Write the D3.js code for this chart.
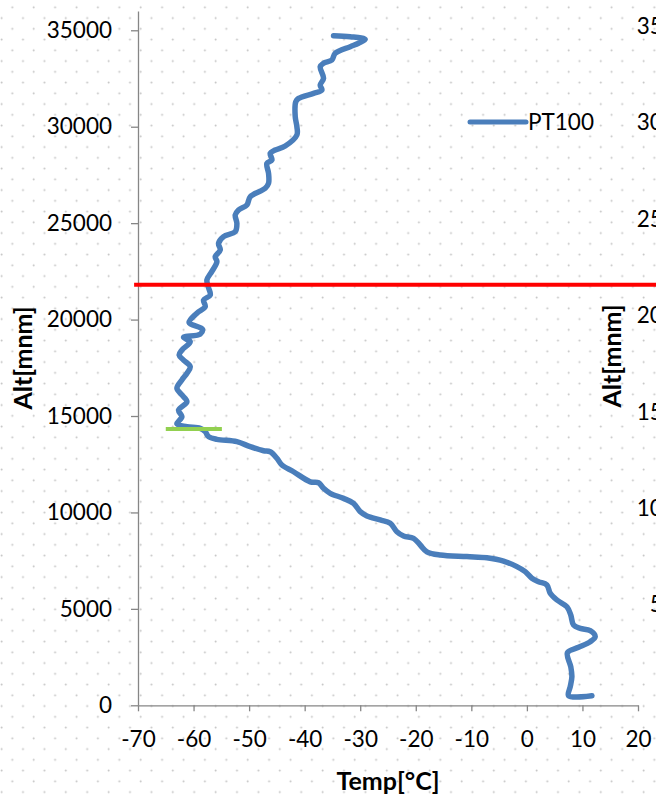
<!DOCTYPE html>
<html>
<head>
<meta charset="utf-8">
<script src="https://cdn.jsdelivr.net/npm/d3@7"></script>
<style>
  body { margin: 0; background: #fff; }
  text { font-family: Lato, "Open Sans", sans-serif; fill: #000; }
</style>
</head>
<body>
<div id="chart"></div>
<script>
var chartWidth = 656;
var chartHeight = 796;

// Sounding data: temperature [°C] vs altitude [m]
var tempC = [11.7, 7.5, 7.8, 8.1, 7.9, 7.3, 9.3, 11.4, 12.3, 11.4, 9.6, 8.4, 7.9, 7.2, 5.4, 4.2, 3.6, 2.1, 0.9, -0.3,
  -1.8, -4.2, -7.2, -10.8, -15.6, -18.0, -19.2, -20.4, -22.2, -23.4, -24.6, -26.4, -28.8, -30.0, -31.2, -33.0, -35.4, -36.6, -37.5, -39.0,
  -42.0, -44.1, -45.0, -46.2, -47.4, -49.8, -52.2, -55.8, -57.3, -57.9, -58.8, -61.2, -63.0, -62.1, -62.7, -61.2, -62.1, -63.0, -62.1, -61.2,
  -60.6, -61.8, -62.6, -62.1, -60.6, -61.8, -58.8, -58.4, -60.8, -59.4, -57.9, -58.2, -57.0, -57.3, -57.6, -56.7, -55.8, -56.1, -55.2, -55.5,
  -54.6, -52.5, -52.2, -52.5, -51.9, -50.4, -49.8, -47.1, -46.5, -46.5, -46.8, -45.9, -46.2, -45.3, -43.5, -41.4, -41.4, -41.7, -41.6, -41.1,
  -38.4, -36.9, -37.2, -36.6, -37.2, -36.6, -35.1, -34.5, -31.8, -30.3, -29.1, -31.8, -34.8];
var altM = [500, 500, 960, 1480, 2000, 2730, 3010, 3300, 3560, 3870, 3990, 4160, 4680, 5110, 5460, 5810, 6240, 6410, 6590, 6930,
  7190, 7480, 7650, 7710, 7790, 7960, 8310, 8660, 8780, 9000, 9440, 9610, 9820, 10040, 10470, 10730, 10990, 11250, 11540, 11590,
  12110, 12460, 12810, 13150, 13200, 13410, 13670, 13790, 13930, 14190, 14360, 14450, 14590, 14960, 15310, 15740, 16090, 16440, 16870, 17210,
  17560, 17900, 18160, 18420, 18850, 19080, 19250, 19500, 19840, 20330, 20670, 21010, 21270, 21650, 22050, 22500, 23000, 23260, 23610, 23950,
  24300, 24560, 24990, 25420, 25680, 25940, 26370, 26810, 27070, 27580, 28100, 28270, 28620, 28790, 29000, 29570, 30000, 30520, 31300, 31470,
  31730, 31900, 32160, 32510, 33110, 33290, 33460, 33810, 34150, 34330, 34530, 34670, 34720];

// Marker lines (tropopause and burst altitude)
var greenTemp = [-65, -54.9];
var greenAlt = [14330, 14330];
var redTemp = [-70.7, 30];
var redAlt = [21800, 21800];

var xTicks = [-70, -60, -50, -40, -30, -20, -10, 0, 10, 20];
var yTicks = [0, 5000, 10000, 15000, 20000, 25000, 30000, 35000];
var seriesName = "PT100";
var xTitle = "Temp[°C]";
var yTitle = "Alt[mnm]";

// plain hyphen for negatives, like the original
var numFormat = function (d) { return String(d); };

var svg = d3
  .select("#chart")
  .append("svg")
  .attr("width", chartWidth)
  .attr("height", chartHeight);

// Dotted background pattern
var pattern = svg.append("defs")
  .append("pattern")
  .attr("id", "dots")
  .attr("patternUnits", "userSpaceOnUse")
  .attr("width", 21.4)
  .attr("height", 21.5);
pattern.append("circle").attr("cx", 12.3).attr("cy", 7.3).attr("r", 1).attr("fill", "#c4c4c4");
pattern.append("circle").attr("cx", 1.6).attr("cy", 18.05).attr("r", 1).attr("fill", "#c4c4c4");

svg.append("rect")
  .attr("width", chartWidth)
  .attr("height", chartHeight)
  .attr("fill", "url(#dots)");

var x = d3.scaleLinear().domain([-70, 20]).range([138, 638]);
var y = d3.scaleLinear().domain([0, 36000]).range([705.3, 11]);

// Clipped second chart on the right edge (only its y axis labels show)
var y2 = d3.scaleLinear().domain([0, 36000]).range([701, 7]);
svg.append("g")
  .attr("transform", "translate(728,0)")
  .call(d3.axisLeft(y2).tickValues(yTicks).tickFormat(numFormat).tickSize(7).tickPadding(19))
  .call(function (g) { g.select(".domain").remove(); g.selectAll("line").remove(); })
  .selectAll("text")
  .attr("font-size", "22.5px")
  .attr("font-family", "Lato");
svg.append("text")
  .attr("transform", "translate(621,356) rotate(-90)")
  .attr("text-anchor", "middle")
  .attr("font-size", "25px")
  .attr("font-weight", "bold")
  .text(yTitle);

// Axes
var yAxis = svg.append("g")
  .attr("transform", "translate(138,0)")
  .call(d3.axisLeft(y).tickValues(yTicks).tickFormat(numFormat).tickSize(7).tickSizeOuter(0).tickPadding(19));

var xAxis = svg.append("g")
  .attr("transform", "translate(0,705.3)")
  .call(d3.axisBottom(x).tickValues(xTicks).tickFormat(numFormat).tickSize(6).tickSizeOuter(0).tickPadding(20));

[yAxis, xAxis].forEach(function (g) {
  g.select(".domain").attr("stroke", "#868686").attr("stroke-width", 1.3);
  g.selectAll(".tick line").attr("stroke", "#868686").attr("stroke-width", 1.3);
  g.selectAll(".tick text")
    .attr("font-size", "22.5px")
    .attr("font-family", "Lato")
    .attr("fill", "#000");
});

// Axis titles
svg.append("text")
  .attr("transform", "translate(32,358) rotate(-90)")
  .attr("text-anchor", "middle")
  .attr("font-size", "25px")
  .attr("font-weight", "bold")
  .text(yTitle);

svg.append("text")
  .attr("x", 388)
  .attr("y", 790)
  .attr("text-anchor", "middle")
  .attr("font-size", "25px")
  .attr("font-weight", "bold")
  .text(xTitle);

// Line generator (smoothed like the original)
var line = d3.line()
  .x(function (d) { return x(d[0]); })
  .y(function (d) { return y(d[1]); });

var profile = d3.zip(tempC, altM);

svg.append("path")
  .datum(profile)
  .attr("d", line.curve(d3.curveCatmullRom.alpha(0.5)))
  .attr("fill", "none")
  .attr("stroke", "#4a7ebb")
  .attr("stroke-width", 5.5)
  .attr("stroke-linejoin", "round")
  .attr("stroke-linecap", "round");

svg.append("path")
  .datum(d3.zip(greenTemp, greenAlt))
  .attr("d", line.curve(d3.curveLinear))
  .attr("fill", "none")
  .attr("stroke", "#92d050")
  .attr("stroke-width", 4);

svg.append("path")
  .datum(d3.zip(redTemp, redAlt))
  .attr("d", line.curve(d3.curveLinear))
  .attr("fill", "none")
  .attr("stroke", "#ff0000")
  .attr("stroke-width", 4);

// Legend
var legend = svg.append("g").attr("transform", "translate(470,122)");
legend.append("line")
  .attr("x1", 0).attr("x2", 56)
  .attr("stroke", "#4a7ebb")
  .attr("stroke-width", 5)
  .attr("stroke-linecap", "round");
legend.append("text")
  .attr("x", 58)
  .attr("dy", "0.36em")
  .attr("font-size", "22.5px")
  .text(seriesName);
</script>
</body>
</html>
